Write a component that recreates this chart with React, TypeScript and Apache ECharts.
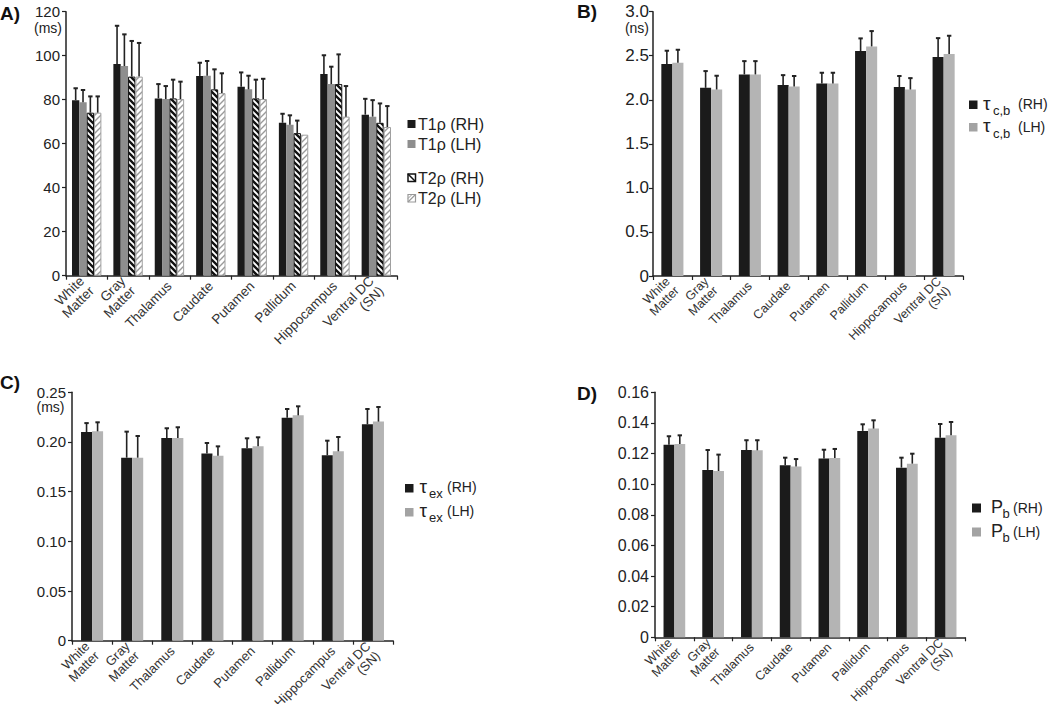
import React, { useEffect, useRef } from "react";
import * as echarts from "echarts";

const CATEGORIES = ["White\nMatter", "Gray\nMatter", "Thalamus", "Caudate", "Putamen", "Pallidum", "Hippocampus", "Ventral DC\n(SN)"];

// Panel A (ms)
const A_T1_RH = [79.8, 96.2, 80.6, 90.8, 85.9, 69.5, 91.7, 73.2];
const A_T1_RH_SD = [5.4, 17.4, 6.5, 6.0, 6.5, 4.1, 8.5, 7.2];
const A_T1_LH = [78.8, 95.3, 80.3, 90.9, 84.7, 68.6, 87.1, 72.3];
const A_T1_LH_SD = [5.6, 14.4, 5.9, 6.7, 6.2, 4.3, 7.9, 7.5];
const A_T2_RH = [74.1, 90.5, 80.6, 84.7, 80.6, 64.8, 87.1, 69.5];
const A_T2_RH_SD = [7.4, 16.2, 8.5, 9.1, 8.5, 5.7, 13.5, 8.8];
const A_T2_LH = [74.1, 90.5, 80.3, 83.0, 80.3, 64.1, 72.3, 67.6];
const A_T2_LH_SD = [7.4, 15.3, 7.9, 9.0, 9.2, 0, 13.9, 9.5];

// Panel B (ns)
const B_RH = [2.405, 2.136, 2.288, 2.167, 2.186, 2.553, 2.144, 2.485];
const B_RH_SD = [0.152, 0.19, 0.151, 0.113, 0.121, 0.144, 0.126, 0.215];
const B_LH = [2.42, 2.117, 2.288, 2.15, 2.186, 2.606, 2.117, 2.52];
const B_LH_SD = [0.148, 0.156, 0.151, 0.12, 0.121, 0.174, 0.129, 0.207];

// Panel C (ms)
const C_RH = [0.21, 0.1842, 0.204, 0.1883, 0.1936, 0.2245, 0.1866, 0.2178];
const C_RH_SD = [0.009, 0.0262, 0.0098, 0.0107, 0.0101, 0.0087, 0.0147, 0.0154];
const C_LH = [0.2107, 0.1842, 0.204, 0.1862, 0.1956, 0.2268, 0.1906, 0.2205];
const C_LH_SD = [0.0091, 0.0218, 0.0108, 0.0094, 0.0091, 0.0091, 0.0144, 0.0147];

// Panel D
const D_RH = [0.1258, 0.1093, 0.1223, 0.1123, 0.1167, 0.1348, 0.1108, 0.1304];
const D_RH_SD = [0.0055, 0.013, 0.0064, 0.005, 0.0058, 0.0043, 0.0065, 0.0089];
const D_LH = [0.1263, 0.1086, 0.1221, 0.1115, 0.1171, 0.1363, 0.1134, 0.1319];
const D_LH_SD = [0.0056, 0.0107, 0.0066, 0.0049, 0.0059, 0.0054, 0.0065, 0.0087];

const FONT = "Arial";
const BLACK = "#1b1b1b";
const GRAY_A = "#8e8e8e";
const GRAY = "#b4b4b4";
const AXIS = "#222";

function hatch(color: string, lineWidth: number, back: boolean) {
  const s = 6;
  const c = document.createElement("canvas");
  c.width = s;
  c.height = s;
  const ctx = c.getContext("2d")!;
  ctx.fillStyle = "#ffffff";
  ctx.fillRect(0, 0, s, s);
  ctx.strokeStyle = color;
  ctx.lineWidth = lineWidth;
  ctx.beginPath();
  for (const k of [-s, 0, s]) {
    if (back) {
      ctx.moveTo(k - 1, -1);
      ctx.lineTo(k + s + 1, s + 1);
    } else {
      ctx.moveTo(k - 1, s + 1);
      ctx.lineTo(k + s + 1, -1);
    }
  }
  ctx.stroke();
  return { image: c, repeat: "repeat" };
}

function errData(list: { v: number[]; sd: number[] }[]) {
  const out: number[][] = [];
  list.forEach((s, k) => {
    s.v.forEach((v, i) => {
      if (s.sd[i] > 0) out.push([i, v, s.sd[i], k]);
    });
  });
  return out;
}

function errSeries(grid: number, list: { v: number[]; sd: number[] }[], gap: number) {
  const n = list.length;
  return {
    type: "custom",
    xAxisIndex: grid,
    yAxisIndex: grid,
    z: 5,
    encode: { x: 0, y: 1 },
    data: errData(list),
    renderItem: (params: any, api: any) => {
      const cat = api.value(0);
      const val = api.value(1);
      const sd = api.value(2);
      const k = api.value(3);
      const base = api.coord([cat, val]);
      const top = api.coord([cat, val + sd]);
      const band = api.size([1, 0])[0];
      const gw = band * (1 - gap);
      const bw = gw / n;
      const x = base[0] - gw / 2 + bw * (k + 0.5);
      return {
        type: "group",
        children: [
          { type: "line", shape: { x1: x, y1: base[1], x2: x, y2: top[1] }, style: { stroke: "#222", lineWidth: 1.6 } },
          { type: "line", shape: { x1: x - 2.2, y1: top[1], x2: x + 2.2, y2: top[1] }, style: { stroke: "#222", lineWidth: 2 } },
        ],
      };
    },
  };
}

function xAxis(grid: number, fontSize: number) {
  return {
    gridIndex: grid,
    type: "category",
    data: CATEGORIES,
    boundaryGap: true,
    axisLine: { show: true, lineStyle: { color: AXIS, width: 1.5 } },
    axisTick: { show: true, length: 4, lineStyle: { color: AXIS, width: 1.2 } },
    axisLabel: {
      show: true,
      interval: 0,
      rotate: 45,
      fontSize,
      lineHeight: fontSize + 0.5,
      color: "#333",
      margin: 8,
      fontFamily: FONT,
    },
  };
}

function yAxis(grid: number, max: number, interval: number, fontSize: number, margin: number, dec: number) {
  return {
    gridIndex: grid,
    type: "value",
    min: 0,
    max,
    interval,
    splitLine: { show: false },
    axisLine: { show: true, lineStyle: { color: AXIS, width: 1.5 } },
    axisTick: { show: true, length: 4, lineStyle: { color: AXIS, width: 1.2 } },
    axisLabel: {
      fontSize,
      color: "#222",
      margin,
      fontFamily: FONT,
      formatter: (v: number) => (v === 0 ? "0" : v.toFixed(dec)),
    },
  };
}

function bar(grid: number, data: number[], color: any, gap: string, extra: any = {}) {
  return {
    type: "bar",
    xAxisIndex: grid,
    yAxisIndex: grid,
    data,
    barGap: "0%",
    barCategoryGap: gap,
    itemStyle: { color, ...extra },
  };
}

function legendSq(x: number, y: number, fill: string, size = 8.5) {
  return { type: "rect", shape: { x, y, width: size, height: size }, style: { fill } };
}

function txt(x: number, y: number, text: string, fontSize: number, extra: any = {}) {
  return {
    type: "text",
    x,
    y,
    style: { text, fontSize, fontFamily: FONT, fill: "#222", verticalAlign: "middle", align: "left", ...extra },
  };
}

export default function App() {
  const ref = useRef<HTMLDivElement>(null);
  useEffect(() => {
    if (!ref.current) return;
    const chart = echarts.init(ref.current, null, { renderer: "svg" });
    const g = { containLabel: false, outerBoundsMode: "none" };
    const option: any = {
      animation: false,
      grid: [
        { ...g, left: 66, top: 11.7, width: 331, height: 264 },
        { ...g, left: 653, top: 11.7, width: 310, height: 264.3 },
        { ...g, left: 72, top: 392.3, width: 321, height: 248.4 },
        { ...g, left: 655, top: 392.3, width: 310, height: 245 },
      ],
      xAxis: [xAxis(0, 13.5), xAxis(1, 12.5), xAxis(2, 13), xAxis(3, 12.5)],
      yAxis: [
        yAxis(0, 120, 20, 15, 6, 0),
        yAxis(1, 3.0, 0.5, 17, 4, 1),
        yAxis(2, 0.25, 0.05, 15, 6, 2),
        yAxis(3, 0.16, 0.02, 16, 6, 2),
      ],
      series: [
        bar(0, A_T1_RH, BLACK, "29%"),
        bar(0, A_T1_LH, GRAY_A, "29%"),
        bar(0, A_T2_RH, hatch("#111111", 2.3, true), "29%", { borderColor: "#111", borderWidth: 1 }),
        bar(0, A_T2_LH, hatch("#9a9a9a", 1.4, false), "29%", { borderColor: "#a0a0a0", borderWidth: 1 }),
        errSeries(0, [
          { v: A_T1_RH, sd: A_T1_RH_SD },
          { v: A_T1_LH, sd: A_T1_LH_SD },
          { v: A_T2_RH, sd: A_T2_RH_SD },
          { v: A_T2_LH, sd: A_T2_LH_SD },
        ], 0.29),
        bar(1, B_RH, BLACK, "43%"),
        bar(1, B_LH, GRAY, "43%"),
        errSeries(1, [
          { v: B_RH, sd: B_RH_SD },
          { v: B_LH, sd: B_LH_SD },
        ], 0.43),
        bar(2, C_RH, BLACK, "45%"),
        bar(2, C_LH, GRAY, "45%"),
        errSeries(2, [
          { v: C_RH, sd: C_RH_SD },
          { v: C_LH, sd: C_LH_SD },
        ], 0.45),
        bar(3, D_RH, BLACK, "44%"),
        bar(3, D_LH, GRAY, "44%"),
        errSeries(3, [
          { v: D_RH, sd: D_RH_SD },
          { v: D_LH, sd: D_LH_SD },
        ], 0.44),
      ],
      graphic: [
        // panel labels
        txt(0, 13.5, "A)", 19, { fontWeight: "bold", fill: "#111" }),
        txt(577, 11.5, "B)", 19, { fontWeight: "bold", fill: "#111" }),
        txt(0, 382, "C)", 19, { fontWeight: "bold", fill: "#111" }),
        txt(577, 393, "D)", 19, { fontWeight: "bold", fill: "#111" }),
        // units
        txt(62, 28, "(ms)", 14, { align: "right" }),
        txt(649, 27.5, "(ns)", 14, { align: "right" }),
        txt(64.5, 407, "(ms)", 14, { align: "right" }),
        // legend A
        legendSq(407.5, 120, BLACK, 8),
        txt(418, 124.5, "T1ρ (RH)", 16),
        legendSq(407.5, 140, GRAY_A, 8),
        txt(418, 144.5, "T1ρ (LH)", 16),
        { type: "rect", shape: { x: 408, y: 174, width: 7.5, height: 7.5 }, style: { fill: "#fff", stroke: "#111", lineWidth: 1.5 } },
        { type: "line", shape: { x1: 408, y1: 174, x2: 415.5, y2: 181.5 }, style: { stroke: "#111", lineWidth: 1.5 } },
        txt(418, 178, "T2ρ (RH)", 16),
        { type: "rect", shape: { x: 408, y: 194.5, width: 7.5, height: 7.5 }, style: { fill: "#fff", stroke: "#999", lineWidth: 1.2 } },
        { type: "line", shape: { x1: 408, y1: 202, x2: 415.5, y2: 194.5 }, style: { stroke: "#999", lineWidth: 1.2 } },
        { type: "line", shape: { x1: 408, y1: 198.5, x2: 412, y2: 194.5 }, style: { stroke: "#999", lineWidth: 1 } },
        txt(418, 198.5, "T2ρ (LH)", 16),
        // legend B
        legendSq(969, 100.5, BLACK),
        txt(983, 103, "τ", 19),
        txt(993, 110.5, "c,b", 13),
        txt(1018, 104, "(RH)", 14),
        legendSq(969, 123, "#a3a3a3"),
        txt(983, 125.5, "τ", 19),
        txt(993, 133, "c,b", 13),
        txt(1018, 126.5, "(LH)", 14),
        // legend C
        legendSq(405, 484, BLACK),
        txt(419.5, 486, "τ", 19),
        txt(429, 493, "ex", 13),
        txt(447, 487, "(RH)", 14),
        legendSq(405, 508, "#a3a3a3"),
        txt(419.5, 510, "τ", 19),
        txt(429, 517, "ex", 13),
        txt(447, 511, "(LH)", 14),
        // legend D
        legendSq(972, 503.5, BLACK, 9),
        txt(991, 507, "P", 18),
        txt(1002.5, 513, "b", 13),
        txt(1013, 508, "(RH)", 14),
        legendSq(972, 527.5, "#a3a3a3", 9),
        txt(991, 531, "P", 18),
        txt(1002.5, 537, "b", 13),
        txt(1013, 532, "(LH)", 14),
      ],
    };
    chart.setOption(option);
    return () => chart.dispose();
  }, []);
  return <div ref={ref} style={{ position: "absolute", left: 0, top: 0, width: 1050, height: 704, background: "#fff" }} />;
}
